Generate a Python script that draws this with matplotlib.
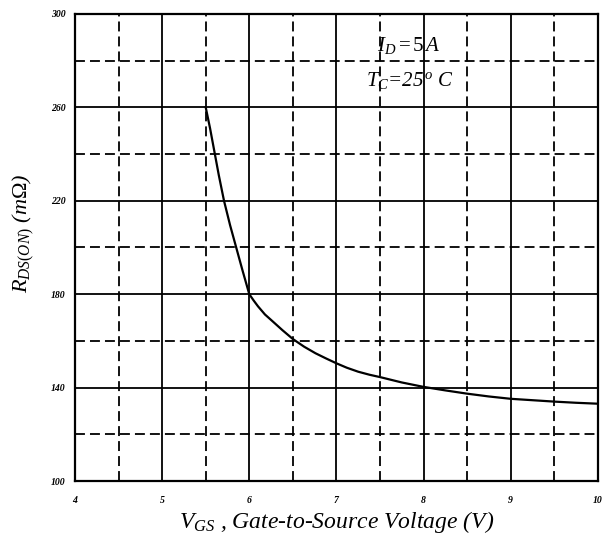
import matplotlib.pyplot as plt
from matplotlib.ticker import MultipleLocator

plt.rcParams['mathtext.fontset'] = 'custom'
plt.rcParams['mathtext.rm'] = 'Liberation Serif'
plt.rcParams['mathtext.it'] = 'Liberation Serif:italic'

# R_DS(on) vs V_GS
vgs = [5.5, 5.55, 5.6, 5.65, 5.71, 5.78, 5.85, 5.92, 6.0, 6.05, 6.1, 6.18,
       6.27, 6.38, 6.5, 6.63, 6.76, 6.88, 7.0, 7.12, 7.25, 7.38, 7.5, 7.75,
       8.0, 8.25, 8.5, 8.75, 9.0, 9.25, 9.5, 9.75, 10.0]
rds = [260, 251, 241, 231, 220, 209.5, 200, 190.5, 180, 177.3, 174.8, 171.3,
       168.3, 164.6, 160.8, 157.5, 154.7, 152.5, 150.4, 148.5, 146.8, 145.5, 144.5, 142.2,
       140.3, 138.8, 137.4, 136.2, 135.2, 134.6, 134.0, 133.5, 133.1]

x_ticks = [4, 5, 6, 7, 8, 9, 10]
y_ticks = [100, 140, 180, 220, 260, 300]

fig = plt.figure(figsize=(6.05, 5.42), dpi=100)
ax = fig.add_axes([0.124, 0.1125, 0.864, 0.862])

ax.plot(vgs, rds, color='black', lw=1.6, zorder=3)

ax.set_xlim(4, 10)
ax.set_ylim(100, 300)
ax.set_xticks(x_ticks)
ax.set_yticks(y_ticks)
ax.xaxis.set_minor_locator(MultipleLocator(0.5))
ax.yaxis.set_minor_locator(MultipleLocator(20))
ax.grid(which='major', color='black', lw=1.3, ls='-')
ax.grid(which='minor', color='black', lw=1.3, ls=(0, (5.5, 2.8)))
ax.set_axisbelow(True)
ax.tick_params(which='both', length=0)
ax.tick_params(axis='x', pad=11)
ax.tick_params(axis='y', pad=7)
for lab in ax.get_xticklabels() + ax.get_yticklabels():
    lab.set_fontfamily('Liberation Serif')
    lab.set_fontstyle('italic')
    lab.set_fontweight('bold')
    lab.set_fontsize(7)
for s in ax.spines.values():
    s.set_linewidth(1.6)

ax.set_xlabel(r'$V_{GS}$ , Gate-to-Source Voltage (V)', family='Liberation Serif',
              style='italic', fontsize=17, labelpad=3)
ax.set_ylabel(r'$R_{DS(ON)}$ (m$\Omega$)', family='Liberation Serif',
              style='italic', fontsize=16, labelpad=10)
ax.yaxis.set_label_coords(-0.075, 0.53)

ax.text(7.83, 286.5, r'$I_D = 5\,A$', ha='center', va='center', fontsize=15)
ax.text(7.85, 271.5, r'$T_C$=25$^{\,o}$ C', ha='center', va='center', fontsize=15,
        family='Liberation Serif', style='italic')

fig.savefig('out.png', dpi=100)
